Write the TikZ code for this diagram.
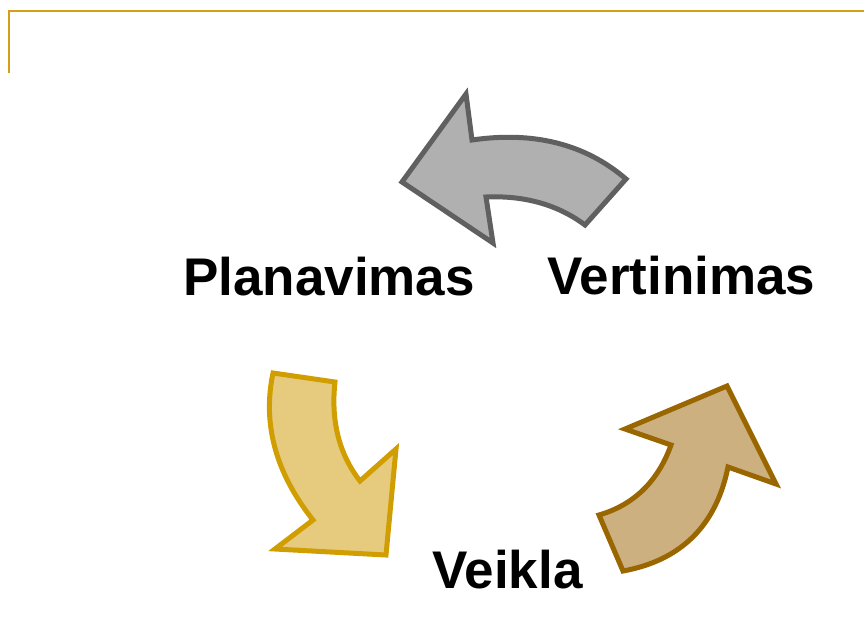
\documentclass[tikz,border=0pt]{standalone}
\usepackage{fontspec}
\setmainfont{Liberation Sans}
\definecolor{rulegold}{HTML}{D4A017}
\definecolor{greyfill}{HTML}{B0B0B0}
\definecolor{greyline}{HTML}{606060}
\definecolor{goldfill}{HTML}{E6CB7E}
\definecolor{goldline}{HTML}{D09E00}
\definecolor{brownfill}{HTML}{CCB07F}
\definecolor{brownline}{HTML}{9A6600}
\begin{document}
\begin{tikzpicture}[x=1pt,y=-1pt,
  cyclearrow/.style={line width=5pt,line join=miter,miter limit=10},
  label/.style={font=\fontsize{53}{62}\selectfont\bfseries,inner sep=0pt,anchor=base west}]
\useasboundingbox (0,0) rectangle (864,625);
% title rule
\draw[rulegold,line width=2pt] (9,73) -- (9,10.5) -- (864,10.5);

% grey arrow (Vertinimas -> Planavimas)
\draw[cyclearrow,draw=greyline,fill=greyfill]
  (402,182) -- (466,94) -- (472,140)
  .. controls (533.7,131) and (585.3,144) .. (626,179)
  -- (585,225)
  .. controls (558.3,205) and (525,195.3) .. (486,197)
  -- (493,243) -- cycle;

% gold arrow (Planavimas -> Veikla)
\draw[cyclearrow,draw=goldline,fill=goldfill]
  (273,373) -- (335,382)
  .. controls (330.7,420.7) and (339,454) .. (360,481)
  -- (396,449) -- (386,555) -- (275,549) -- (313,520)
  .. controls (275.8,473.1) and (262.2,424) .. cycle;

% brown arrow (Veikla -> Vertinimas)
\draw[cyclearrow,draw=brownline,fill=brownfill]
  (599,515) -- (623,571)
  .. controls (681.2,560.4) and (716.2,525.4) .. (728,467)
  -- (776,484) -- (727,386) -- (625,429) -- (671,445)
  .. controls (657.9,481.7) and (633.4,505) .. cycle;

% stage labels
\node[label] (plan) at (183,295) {Planavimas};
\node[label] (vert) at (547,294.5) {Vertinimas};
\node[label] (veik) at (432,588.5) {Veikla};
\end{tikzpicture}
\end{document}
